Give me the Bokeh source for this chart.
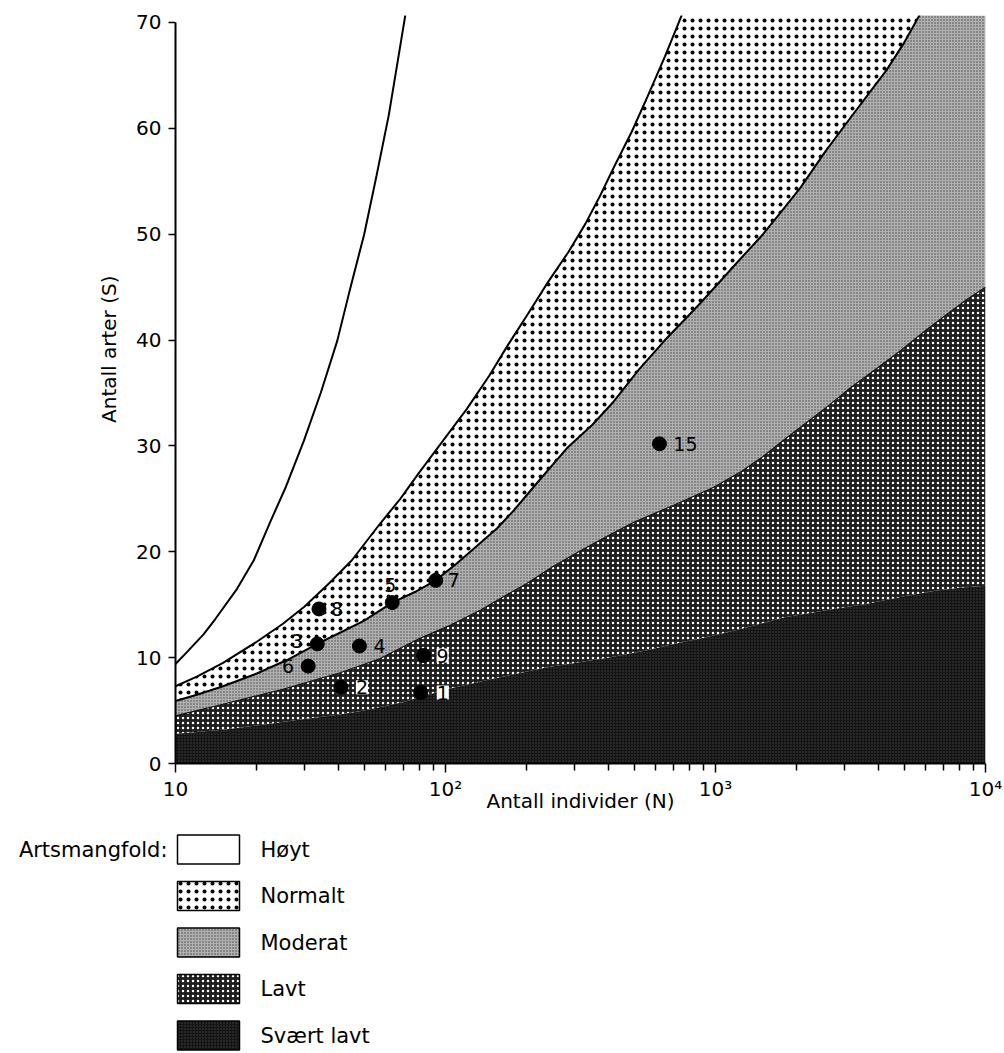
from bokeh.plotting import figure
from bokeh.models import Range1d, ColumnDataSource, LabelSet, Label, FixedTicker, Title
from bokeh.layouts import column
from bokeh.embed import file_html
from bokeh.resources import INLINE
from bokeh.core.properties import value

# ---------------- data ----------------
# upper limit curve
max_N = [10, 11, 12.7, 14, 16.9, 19.5, 22.5, 25.5, 29.9, 34.5, 39.7, 44.5, 50, 55.5, 61.7, 66, 71]
max_S = [9.4, 10.5, 12.2, 13.6, 16.5, 19.2, 22.9, 26, 30.5, 35, 39.9, 45, 50, 55.5, 61.3, 65.8, 70.7]

# boundary Høyt / Normalt
hoy_N = [10, 12, 15, 20, 25, 30, 37, 45, 57, 68, 80, 100, 120, 145, 170, 200, 240, 285,
         330, 375, 420, 490, 560, 650, 750]
hoy_S = [7.3, 8.2, 9.5, 11.5, 13.2, 14.8, 17.0, 19.2, 22.6, 25.0, 27.5, 30.8, 33.5, 36.6,
         39.5, 42.3, 45.5, 48.3, 51, 53.7, 56.3, 59.7, 63, 66.8, 70.7]

# boundary Normalt / Moderat
norm_N = [10, 12, 15, 20, 26, 33.5, 41, 50, 63.5, 77, 92, 110, 130, 155, 179, 225, 282, 350,
          420, 520, 650, 760, 880, 1045, 1250, 1500, 1750, 2064, 2550, 3162, 3700, 4300, 5000, 5700]
norm_S = [5.9, 6.5, 7.3, 8.5, 9.8, 11.3, 12.4, 13.5, 15.2, 16.2, 17.3, 18.9, 20.5, 22.2, 23.9,
          26.9, 29.8, 32.0, 34.2, 37.2, 40, 41.8, 43.5, 45.6, 47.8, 50, 52.1, 54.4, 57.8, 61,
          63.3, 65.5, 68.1, 70.7]

# boundary Moderat / Lavt
mod_N = [10, 12, 15, 20, 25, 30, 41, 57, 80, 105, 135, 165, 200, 250, 316, 400, 500, 700, 986,
         1250, 1500, 1800, 2200, 2650, 3162, 4000, 4840, 6000, 7000, 8500, 10000]
mod_S = [4.5, 5.0, 5.6, 6.4, 7.0, 7.6, 8.6, 9.9, 11.8, 13.1, 14.5, 15.8, 17, 18.6, 20.1, 21.5,
         22.8, 24.4, 26.1, 27.6, 29, 30.6, 32.3, 33.9, 35.5, 37.4, 39.0, 40.9, 42.2, 43.8, 45]

# boundary Lavt / Svært lavt
low_N = [10, 15, 20, 30, 40, 50, 70, 100, 150, 238, 400, 558, 700, 880, 1200, 1790, 2600,
         3650, 5000, 6430, 8000, 10000]
low_S = [2.8, 3.2, 3.6, 4.2, 4.6, 5.0, 5.8, 7.0, 8.0, 9.1, 10.0, 10.7, 11.3, 11.8, 12.6, 13.8,
         14.5, 15.1, 15.8, 16.3, 16.6, 16.8]

# sampling sites
site_labels = ["1", "2", "3", "4", "5", "6", "7", "8", "9", "15"]
site_N = [81, 41, 33.5, 48, 63.5, 31, 92, 34, 83, 620]
site_S = [6.7, 7.2, 11.3, 11.1, 15.2, 9.2, 17.3, 14.6, 10.2, 30.2]

categories = ["Høyt", "Normalt", "Moderat", "Lavt", "Svært lavt"]
legend_title = "Artsmangfold:"
x_title = "Antall individer (N)"
y_title = "Antall arter (S)"
x_ticks = [10, 100, 1000, 10000]
x_tick_labels = ["10", "10²", "10³", "10⁴"]
y_ticks = [0, 10, 20, 30, 40, 50, 60, 70]

# ---------------- styles ----------------
FONT = "DejaVu Sans"
X_MIN, X_MAX = 10, 10000
Y_TOP = 70.66

styles = {
    "Høyt": dict(fill_color="white"),
    "Normalt": dict(fill_color="white", hatch_pattern="dot", hatch_color="black",
                    hatch_scale=8, hatch_weight=2),
    "Moderat": dict(fill_color="#b0b0b0", hatch_pattern="dot", hatch_color="#454545",
                    hatch_scale=3, hatch_weight=1),
    "Lavt": dict(fill_color="#1e1e1e", hatch_pattern="dot", hatch_color="white",
                 hatch_scale=5, hatch_weight=2.8),
    "Svært lavt": dict(fill_color="#141414", hatch_pattern="dot", hatch_color="#444444",
                       hatch_scale=3, hatch_weight=1),
}

# label offsets (screen px) and whether a white box is behind the label
label_style = {
    "1": (22, 0, True), "2": (21, 0, True), "3": (-20, 3, False), "4": (20, 0, False),
    "5": (-2, 18, False), "6": (-20, 0, False), "7": (18, 0, False), "8": (18, 0, False),
    "9": (19, 0, True), "15": (26, 0, False),
}

W = 1004
MAIN_H = 823
LEG_H = 230
BL, BR = 175, 19

p = figure(width=W, height=MAIN_H, x_axis_type="log",
           x_range=Range1d(X_MIN, X_MAX), y_range=Range1d(0, Y_TOP),
           output_backend="svg", toolbar_location=None,
           min_border_left=BL, min_border_right=BR, min_border_top=15, min_border_bottom=60,
           background_fill_color="white", border_fill_color="white")
p.outline_line_color = None
p.grid.visible = False

# regions
sv_x = list(low_N) + [X_MAX, X_MIN]
sv_y = list(low_S) + [0, 0]
p.patch(sv_x, sv_y, line_color=None, **styles["Svært lavt"])

lv_x = list(low_N) + list(mod_N)[::-1]
lv_y = list(low_S) + list(mod_S)[::-1]
p.patch(lv_x, lv_y, line_color=None, **styles["Lavt"])

md_x = list(mod_N) + [X_MAX] + list(norm_N)[::-1]
md_y = list(mod_S) + [Y_TOP] + list(norm_S)[::-1]
p.patch(md_x, md_y, line_color=None, **styles["Moderat"])

nm_x = list(norm_N) + list(hoy_N)[::-1]
nm_y = list(norm_S) + list(hoy_S)[::-1]
p.patch(nm_x, nm_y, line_color=None, **styles["Normalt"])

# boundary lines
p.line(max_N, max_S, line_color="black", line_width=2)
p.line(hoy_N, hoy_S, line_color="black", line_width=2)
p.line(norm_N, norm_S, line_color="black", line_width=2)
p.line(mod_N, mod_S, line_color="#111111", line_width=1.2)

# sites
src = ColumnDataSource(dict(
    N=site_N, S=site_S, label=site_labels,
    dx=[label_style[l][0] for l in site_labels],
    dy=[label_style[l][1] for l in site_labels],
))
p.scatter("N", "S", source=src, size=14, color="black")

boxed = [i for i, l in enumerate(site_labels) if label_style[l][2]]
plain = [i for i, l in enumerate(site_labels) if not label_style[l][2]]


def sub(idx):
    d = src.data
    return ColumnDataSource({k: [d[k][i] for i in idx] for k in d})


p.add_layout(LabelSet(x="N", y="S", text="label", source=sub(plain),
                      x_offset="dx", y_offset="dy", text_align="center",
                      text_baseline="middle", text_font=value(FONT),
                      text_font_size="19px", text_color="black"))
p.add_layout(LabelSet(x="N", y="S", text="label", source=sub(boxed),
                      x_offset="dx", y_offset="dy", text_align="center",
                      text_baseline="middle", text_font=value(FONT),
                      text_font_size="19px", text_color="black",
                      background_fill_color="white"))

# axes
xa = p.xaxis[0]
xa.ticker = FixedTicker(ticks=x_ticks,
                        minor_ticks=[m * 10 ** k for k in range(1, 4) for m in range(2, 10)])
xa.major_label_overrides = dict(zip(x_ticks, x_tick_labels))
xa.axis_label = x_title
ya = p.yaxis[0]
ya.ticker = FixedTicker(ticks=y_ticks)
ya.bounds = (0, 70)

for ax in (xa, ya):
    ax.axis_line_width = 2
    ax.axis_line_color = "black"
    ax.major_tick_line_width = 1.5
    ax.major_tick_line_color = "black"
    ax.minor_tick_line_width = 1.5
    ax.minor_tick_line_color = "black"
    ax.major_tick_in = 0
    ax.minor_tick_in = 0
    ax.major_label_text_font = FONT
    ax.major_label_text_font_size = "20px"
    ax.major_label_text_color = "black"
    ax.axis_label_text_font = FONT
    ax.axis_label_text_font_size = "20px"
    ax.axis_label_text_font_style = "normal"
    ax.axis_label_text_color = "black"

xa.major_tick_out = 9
xa.minor_tick_out = 7
xa.major_label_standoff = 4
xa.axis_label_standoff = -15
ya.major_tick_out = 7
ya.minor_tick_out = 0
ya.major_label_standoff = 7

# y title placed a little above the axis centre, as in the original
p.add_layout(Title(text=y_title, align="right", offset=260, standoff=26,
                   text_font=FONT, text_font_size="20px", text_font_style="normal",
                   text_color="black"), "left")

# ---------------- legend panel ----------------
# frame aligned with the main plot's frame: data x == page x, data y == px below panel top
leg = figure(width=W, height=LEG_H, x_range=Range1d(BL, W - BR), y_range=Range1d(LEG_H, 0),
             output_backend="svg", toolbar_location=None,
             min_border_left=BL, min_border_right=BR, min_border_top=0, min_border_bottom=0,
             x_axis_location=None, y_axis_location="left",
             background_fill_color="white", border_fill_color="white")
leg.outline_line_color = None
leg.grid.visible = False

box_x, box_w, box_h = 208, 62, 29
row0, row_gap = 26, 46.5
for i, cat in enumerate(categories):
    yc = row0 + row_gap * i
    leg.rect(x=[box_x], y=[yc], width=box_w, height=box_h,
             line_color="black", line_width=1.5, **styles[cat])
    leg.add_layout(Label(x=box_x + 52, y=yc, text=cat, text_baseline="middle",
                         text_align="left", text_font=FONT, text_font_size="21px",
                         text_color="black"))

# legend title drawn as the panel's single (left) tick label
la = leg.yaxis[0]
la.ticker = FixedTicker(ticks=[row0])
la.major_label_overrides = {row0: legend_title}
la.axis_line_color = None
la.major_tick_line_color = None
la.minor_tick_line_color = None
la.major_tick_out = 0
la.major_tick_in = 0
la.major_label_standoff = 8
la.major_label_text_font = FONT
la.major_label_text_font_size = "21px"
la.major_label_text_color = "black"

layout = column(p, leg, spacing=0)
open("out.html", "w").write(file_html(layout, INLINE))
